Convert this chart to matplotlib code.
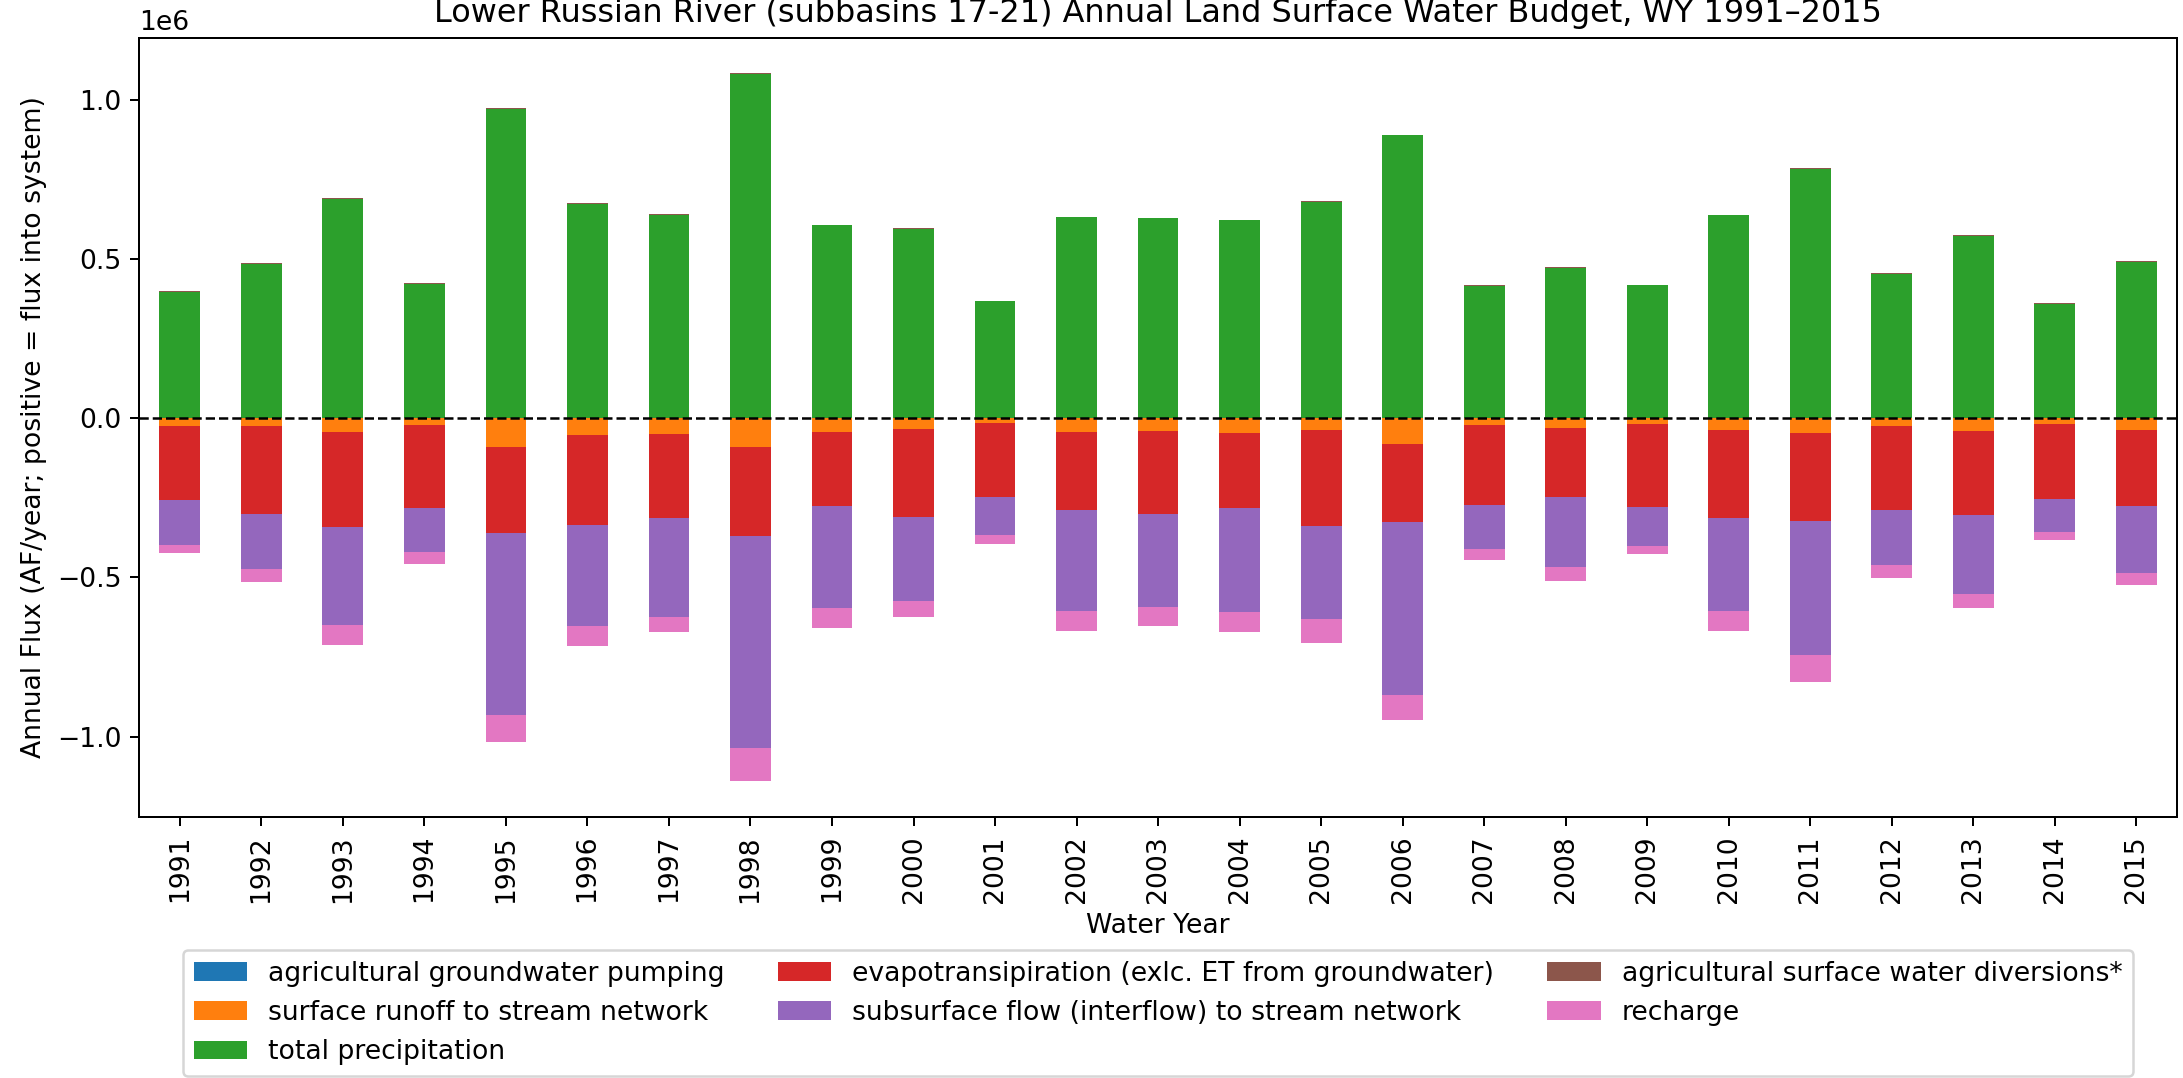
import matplotlib
matplotlib.use("Agg")
import matplotlib.pyplot as plt
import numpy as np
import pandas as pd

plt.rcParams["font.size"] = 10.65

years = list(range(1991, 2016))

# Annual fluxes (AF/year); positive = flux into system
ag_gw_pumping = [800, 1500, 900, 700, 600, 800, 900, 700, 900, 1000, 900, 1600, 1000,
                 900, 800, 700, 1000, 1100, 900, 1000, 900, 1100, 1200, 1000, 1000]
surface_runoff = [-23500, -23500, -42400, -20400, -89500, -51800, -48700, -89500, -42400, -33000,
                  -14000, -42000, -39000, -45500, -36000, -80000, -20000, -30000, -17000, -36000,
                  -45500, -23500, -39000, -17000, -36000]
total_precip = [396000, 483000, 688000, 421000, 971000, 673000, 638000, 1081000, 605000, 595000,
                366000, 630000, 627000, 621000, 680000, 888000, 415000, 471000, 417000, 637000,
                782000, 452000, 571000, 358000, 490000]
evapotranspiration = [-232500, -276500, -298600, -260600, -269500, -282200, -263300, -279500, -232600, -276000,
                      -232000, -245000, -261000, -235500, -301000, -245000, -251000, -216000, -261000, -276000,
                      -276500, -263500, -264000, -236000, -239000]
subsurface_flow = [-141000, -175000, -310000, -138000, -572000, -320000, -311000, -668000, -320000, -264000,
                   -120000, -320000, -292000, -329000, -295000, -543000, -139000, -220000, -122000, -292000,
                   -423000, -173000, -248000, -103000, -210000]
ag_sw_diversions = [1800, 2000, 2000, 1800, 2000, 2000, 2000, 2000, 2000, 2000, 1800, 2000, 2000,
                    2000, 2000, 2000, 1800, 2000, 1800, 2000, 2000, 2000, 2000, 1800, 2000]
recharge = [-25000, -38000, -60000, -38000, -87000, -60000, -47000, -104000, -63000, -50000,
            -28000, -60000, -62000, -60000, -73000, -81000, -34000, -44000, -28000, -63000,
            -85000, -41000, -44000, -25000, -38000]

labels = ["agricultural groundwater pumping",
          "surface runoff to stream network",
          "total precipitation",
          "evapotransipiration (exlc. ET from groundwater)",
          "subsurface flow (interflow) to stream network",
          "agricultural surface water diversions*",
          "recharge"]

df = pd.DataFrame({
    labels[0]: ag_gw_pumping,
    labels[1]: surface_runoff,
    labels[2]: total_precip,
    labels[3]: evapotranspiration,
    labels[4]: subsurface_flow,
    labels[5]: ag_sw_diversions,
    labels[6]: recharge,
}, index=years)

fig = plt.figure(figsize=(2183 / 180, 1078 / 180), dpi=180)
ax = fig.add_axes([0.0637, 0.2417, 0.9336, 0.7235])
df.plot(kind="bar", stacked=True, ax=ax, legend=False)
ax.axhline(0, color="black", linestyle="--", linewidth=1)
ax.set_ylim(-1.254e6, 1.196e6)
ax.set_xlabel("Water Year")
ax.set_ylabel("Annual Flux (AF/year; positive = flux into system)")
ax.set_title("Lower Russian River (subbasins 17-21) Annual Land Surface Water Budget, WY 1991\u20132015",
             y=1.0199, pad=0)
ax.legend(loc="upper center", bbox_to_anchor=(0.5, -0.170), ncol=3, borderaxespad=0)

fig.savefig("out.png", dpi=180)
